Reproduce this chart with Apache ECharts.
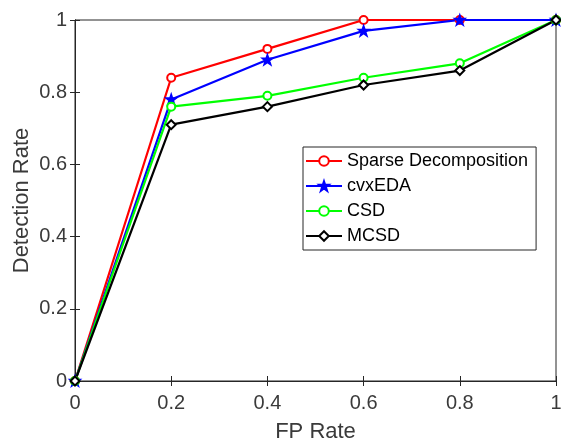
<!DOCTYPE html>
<html>
<head>
<meta charset="utf-8">
<script src="https://cdn.jsdelivr.net/npm/echarts@6/dist/echarts.min.js"></script>
<style>
  html, body { margin: 0; padding: 0; background: #fff; }
  #chart { width: 561px; height: 444px; }
</style>
</head>
<body>
<div id="chart"></div>
<script>
// FP rate on x, detection rate on y
const fpRate = [0, 0.2, 0.4, 0.6, 0.8, 1];
const sparseDecomp = [0, 0.84, 0.92, 1, 1, 1];
const cvxEDA = [0, 0.78, 0.89, 0.97, 1, 1];
const csd = [0, 0.76, 0.79, 0.84, 0.88, 1];
const mcsd = [0, 0.71, 0.76, 0.82, 0.86, 1];

const axisColor = '#262626';
const labelColor = '#3a3a3a';
const font = 'Liberation Sans, Arial, sans-serif';

// star-ish marker, like matlab '*'
const starPath = 'path://M0,-10 L2.5,-3 L10,-3 L4,1.5 L6.5,9 L0,4.5 L-6.5,9 L-4,1.5 L-10,-3 L-2.5,-3 Z';

function pairs(ys) {
  return fpRate.map((x, i) => [x, ys[i]]);
}

function mkSeries(name, ys, color, symbol, size) {
  return {
    name: name,
    type: 'line',
    data: pairs(ys),
    symbol: symbol,
    symbolSize: size,
    showAllSymbol: true,
    lineStyle: { color: color, width: 2.2 },
    itemStyle: { color: color, borderColor: color, borderWidth: 2 },
    emphasis: { disabled: true },
    animation: false
  };
}

const chart = echarts.init(document.getElementById('chart'));

const tickStyle = { show: true, inside: true, length: 5, lineStyle: { color: axisColor } };

const option = {
  animation: false,
  grid: {
    left: 75, right: 5, top: 20, bottom: 63,
    outerBoundsMode: 'none',
    containLabel: false,
    show: true,
    borderColor: axisColor,
    borderWidth: 1,
    backgroundColor: '#fff'
  },
  legend: {
    orient: 'vertical',
    left: 303,
    top: 147,
    backgroundColor: '#fff',
    borderColor: axisColor,
    borderWidth: 1,
    padding: [5, 8, 5, 2],
    itemGap: 7,
    itemWidth: 36,
    itemHeight: 12,
    textStyle: { fontFamily: font, fontSize: 18, color: '#000' },
    data: ['Sparse Decomposition', 'cvxEDA', 'CSD', 'MCSD']
  },
  xAxis: [{
    type: 'value',
    min: 0, max: 1, interval: 0.2,
    name: 'FP Rate',
    nameLocation: 'middle',
    nameGap: 40,
    nameMoveOverlap: false,
    nameTextStyle: { fontFamily: font, fontSize: 22, color: labelColor },
    axisLine: { show: true, lineStyle: { color: axisColor } },
    axisTick: tickStyle,
    splitLine: { show: false },
    axisLabel: { fontFamily: font, fontSize: 20, color: labelColor, margin: 12 }
  }, {
    type: 'value', position: 'top',
    min: 0, max: 1, interval: 0.2,
    axisLine: { show: true, lineStyle: { color: axisColor } },
    axisTick: tickStyle,
    axisLabel: { show: false },
    splitLine: { show: false }
  }],
  yAxis: [{
    type: 'value',
    min: 0, max: 1, interval: 0.2,
    name: 'Detection Rate',
    nameLocation: 'middle',
    nameGap: 42,
    nameMoveOverlap: false,
    nameTextStyle: { fontFamily: font, fontSize: 22, color: labelColor },
    axisLine: { show: true, lineStyle: { color: axisColor } },
    axisTick: tickStyle,
    splitLine: { show: false },
    axisLabel: { fontFamily: font, fontSize: 20, color: labelColor, margin: 8 }
  }, {
    type: 'value', position: 'right',
    min: 0, max: 1, interval: 0.2,
    axisLine: { show: true, lineStyle: { color: axisColor } },
    axisTick: tickStyle,
    axisLabel: { show: false },
    splitLine: { show: false }
  }],
  series: [
    mkSeries('Sparse Decomposition', sparseDecomp, '#ff0000', 'emptyCircle', 8),
    mkSeries('cvxEDA', cvxEDA, '#0000ff', starPath, 9),
    mkSeries('CSD', csd, '#00ff00', 'emptyCircle', 8),
    mkSeries('MCSD', mcsd, '#000000', 'emptyDiamond', 9)
  ]
};

chart.setOption(option);
</script>
</body>
</html>
